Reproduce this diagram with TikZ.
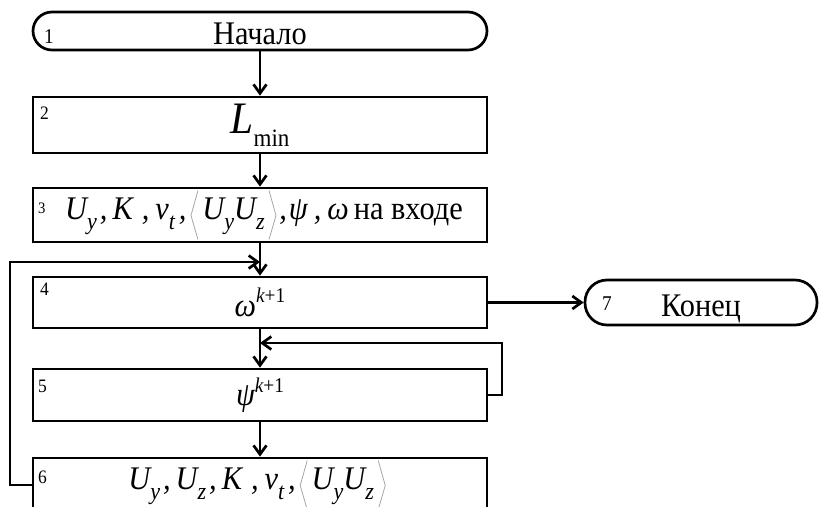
\documentclass[tikz,border=0pt]{standalone}
\usepackage{fontspec}
\setmainfont{Liberation Serif}[FakeStretch=0.92]
\usetikzlibrary{arrows.meta}

% subscript / superscript helpers for the formulas
\newcommand\lowidx[1]{\raisebox{-10pt}{\fontsize{24}{24}\selectfont\itshape #1}}
\newcommand\hiidx[2]{\raisebox{#1}{\fontsize{21}{21}\selectfont #2}}
% thin angle brackets
\newcommand\lbrk{\tikz[baseline=0pt]\draw[gray!70,line width=0.8pt] (7pt,29pt)--(0pt,4pt)--(7pt,-20pt);}
\newcommand\rbrk{\tikz[baseline=0pt]\draw[gray!70,line width=0.8pt] (0pt,29pt)--(7pt,4pt)--(0pt,-20pt);}

\tikzset{
  ln/.style={line width=2.7pt},
  arr/.style={ln,-{Straight Barb[length=9pt,width=13pt]}},
  blk/.style={draw,ln,minimum width=454pt,inner sep=0pt},
  term/.style={draw,ln,inner sep=0pt},
  num/.style={font=\fontsize{19}{19}\selectfont,inner sep=0pt,anchor=base west},
  big/.style={font=\fontsize{33}{33}\selectfont},
}

\begin{document}
\begin{tikzpicture}[x=1pt,y=-1pt]
\useasboundingbox (0,0) rectangle (821,506);
\clip (0,0) rectangle (821,506);

% blocks
\node[term,big,minimum width=454pt,minimum height=38pt,rounded corners=19pt,text height=28pt] (t1) at (260,31) {Начало};
\node[blk,minimum height=56pt] (b2) at (260,125)
  {\fontsize{45}{45}\selectfont\itshape L\raisebox{-13pt}{\fontsize{25}{25}\selectfont\upshape min}};
\node[blk,minimum height=54pt,big] (b3) at (260,215)
  {\hspace*{8pt}\itshape U\lowidx{y}\kern3pt,\kern5pt K\kern9pt,\kern6pt ν\lowidx{t}\kern4pt,\kern4pt\lbrk\kern4pt U\lowidx{y}U\lowidx{z}\kern4pt\rbrk\kern3pt,\kern2pt ψ\kern6pt,\kern6pt ω\kern5pt\upshape на входе};
\node[blk,minimum height=51pt,big] (b4) at (260,302.5) {\itshape ω\hiidx{14pt}{\itshape k\upshape +1}};
\node[blk,minimum height=52pt,big] (b5) at (260,395) {\itshape ψ\hiidx{13pt}{\itshape k\upshape +1}};
\node[blk,minimum height=54pt,big] (b6) at (260,485)
  {\itshape U\lowidx{y}\kern3pt,\kern5pt U\lowidx{z}\kern3pt,\kern5pt K\kern9pt,\kern6pt ν\lowidx{t}\kern4pt,\kern4pt\lbrk\kern4pt U\lowidx{y}U\lowidx{z}\kern4pt\rbrk\kern6pt};
\node[term,big,minimum width=232pt,minimum height=45pt,rounded corners=22pt,text height=35pt] (t7) at (701,302.5) {Конец};

% block numbers
\node[num,font=\fontsize{21}{21}\selectfont] (n1) at (44,43) {1};
\node[num] (n2) at (40,119) {2};
\node[num,font=\fontsize{16}{16}\selectfont] (n3) at (38,213) {3};
\node[num] (n4) at (40,295) {4};
\node[num] (n5) at (38,392) {5};
\node[num] (n6) at (38,483) {6};
\node[num,font=\fontsize{21}{21}\selectfont] (n7) at (602,310) {7};

% junction points of the loops
\coordinate (j1) at (260,262);
\coordinate (j2) at (260,343);

% connectors
\draw[arr] (t1) -- (b2);
\draw[arr] (b2) -- (b3);
\draw[arr] (b3) -- (b4);
\draw[arr] (b4) -- (b5);
\draw[arr] (b5) -- (b6);
\draw[arr] (b4.east) -- (t7.west);
\draw[arr] (b6.west) -- (10,485) |- (j1);
\draw[arr] (b5.east) -- (502,395) |- (j2);
\end{tikzpicture}
\end{document}
